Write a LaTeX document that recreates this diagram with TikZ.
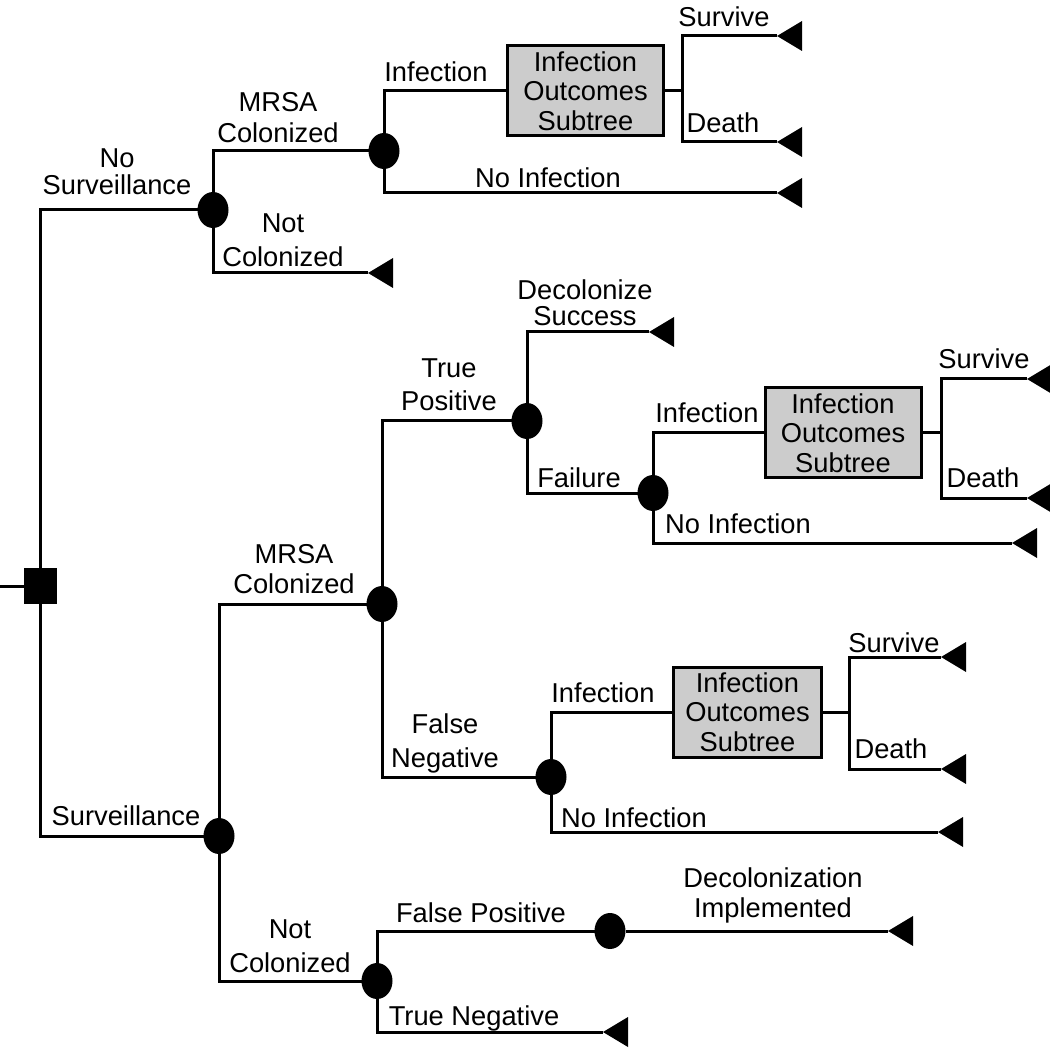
\documentclass[tikz,border=0pt]{standalone}
\usepackage{fontspec}
\setmainfont{Liberation Sans}
\usetikzlibrary{shapes.geometric}
\tikzstyle{chance}=[ellipse,fill,inner sep=0pt,outer sep=0pt,minimum width=31pt,minimum height=36pt]
\tikzstyle{decide}=[rectangle,fill,inner sep=0pt,outer sep=0pt,minimum width=33pt,minimum height=36pt]
\tikzstyle{term}=[isosceles triangle,shape border rotate=180,isosceles triangle stretches,fill,inner sep=0pt,outer sep=0pt,minimum width=30pt,minimum height=25pt,anchor=apex]
\tikzstyle{subtree}=[draw,fill=black!20,align=center,inner sep=0pt,minimum width=156pt,minimum height=90pt]
\tikzstyle{lbl}=[align=center,anchor=base,inner sep=0pt]

\begin{document}
\begin{tikzpicture}[x=1pt,y=-1pt,line width=3pt,font=\fontsize{27.3}{29.5}\selectfont]
\useasboundingbox (0,0) rectangle (1050,1048);

\coordinate (in) at (0,586);
\node[decide] (root) at (40,586) {};
\node[chance] (ns) at (213,210) {};
\node[chance] (sv) at (219,836) {};

\node[chance] (nsc) at (384,151) {};
\node[term] (nsn) at (368,273) {};
\node[subtree] (sub1) at (585.5,91) {Infection\\Outcomes\\Subtree};
\coordinate (j1) at (682,91);
\node[term] (t1s) at (777,36) {};
\node[term] (t1d) at (777,142) {};
\node[term] (t1n) at (777,193) {};

\node[chance] (svc) at (382,604) {};
\node[chance] (tp) at (527,421) {};
\node[term] (tps) at (649,332) {};
\node[chance] (fl) at (653,493) {};
\node[subtree] (sub2) at (843,433) {Infection\\Outcomes\\Subtree};
\coordinate (j2) at (941,433);
\node[term] (t2s) at (1027,379) {};
\node[term] (t2d) at (1027,498) {};
\node[term] (t2n) at (1012,543) {};

\node[chance] (fn) at (551,777) {};
\node[subtree,minimum width=148pt] (sub3) at (747.5,712) {Infection\\Outcomes\\Subtree};
\coordinate (j3) at (849,712);
\node[term] (t3s) at (941,657) {};
\node[term] (t3d) at (941,769) {};
\node[term] (t3n) at (938,832) {};

\node[chance] (svn) at (377,981) {};
\node[chance] (fp) at (610,931) {};
\node[term] (fpt) at (888,931) {};
\node[term] (tnt) at (603,1032) {};

\draw (in) -- (root);
\draw (root) |- (ns);
\draw (root) |- (sv);
\draw (ns) |- (nsc);
\draw (ns) |- (nsn);
\draw (nsc) |- (sub1);
\draw (nsc) |- (t1n);
\draw (sub1) -- (j1);
\draw (j1) |- (t1s);
\draw (j1) |- (t1d);

\draw (sv) |- (svc);
\draw (sv) |- (svn);
\draw (svc) |- (tp);
\draw (svc) |- (fn);
\draw (tp) |- (tps);
\draw (tp) |- (fl);
\draw (fl) |- (sub2);
\draw (fl) |- (t2n);
\draw (sub2) -- (j2);
\draw (j2) |- (t2s);
\draw (j2) |- (t2d);
\draw (fn) |- (sub3);
\draw (fn) |- (t3n);
\draw (sub3) -- (j3);
\draw (j3) |- (t3s);
\draw (j3) |- (t3d);
\draw (svn) |- (fp);
\draw (fp) -- (fpt);
\draw (svn) |- (tnt);

\node[lbl] (l1) at (117,195) {No\\[-2.5pt]Surveillance};
\node[lbl] (l2) at (278,143) {MRSA\\[1.5pt]Colonized};
\node[lbl] (l3) at (283,267) {Not\\[4.5pt]Colonized};
\node[lbl] (l4) at (436,82) {Infection};
\node[lbl] (l5) at (724,27) {Survive};
\node[lbl] (l6) at (723,133) {Death};
\node[lbl] (l7) at (548,188) {No Infection};
\node[lbl] (l8) at (126,825) {Surveillance};
\node[lbl] (l9) at (294,593) {MRSA\\Colonized};
\node[lbl] (l10) at (449,411) {True\\[3.5pt]Positive};
\node[lbl] (l11) at (585,326) {Decolonize\\[-3pt]Success};
\node[lbl] (l12) at (579,487) {Failure};
\node[lbl] (l13) at (707,423) {Infection};
\node[lbl] (l14) at (984,369) {Survive};
\node[lbl] (l15) at (983,487) {Death};
\node[lbl] (l16) at (738,533) {No Infection};
\node[lbl] (l17) at (445,767) {False\\[4.5pt]Negative};
\node[lbl] (l18) at (603,702) {Infection};
\node[lbl] (l19) at (894,652) {Survive};
\node[lbl] (l20) at (891,758) {Death};
\node[lbl] (l21) at (634,827) {No Infection};
\node[lbl] (l22) at (290,972) {Not\\[4.5pt]Colonized};
\node[lbl] (l23) at (481,922) {False Positive};
\node[lbl] (l24) at (773,917) {Decolonization\\Implemented};
\node[lbl] (l25) at (474,1025) {True Negative};

\end{tikzpicture}
\end{document}
